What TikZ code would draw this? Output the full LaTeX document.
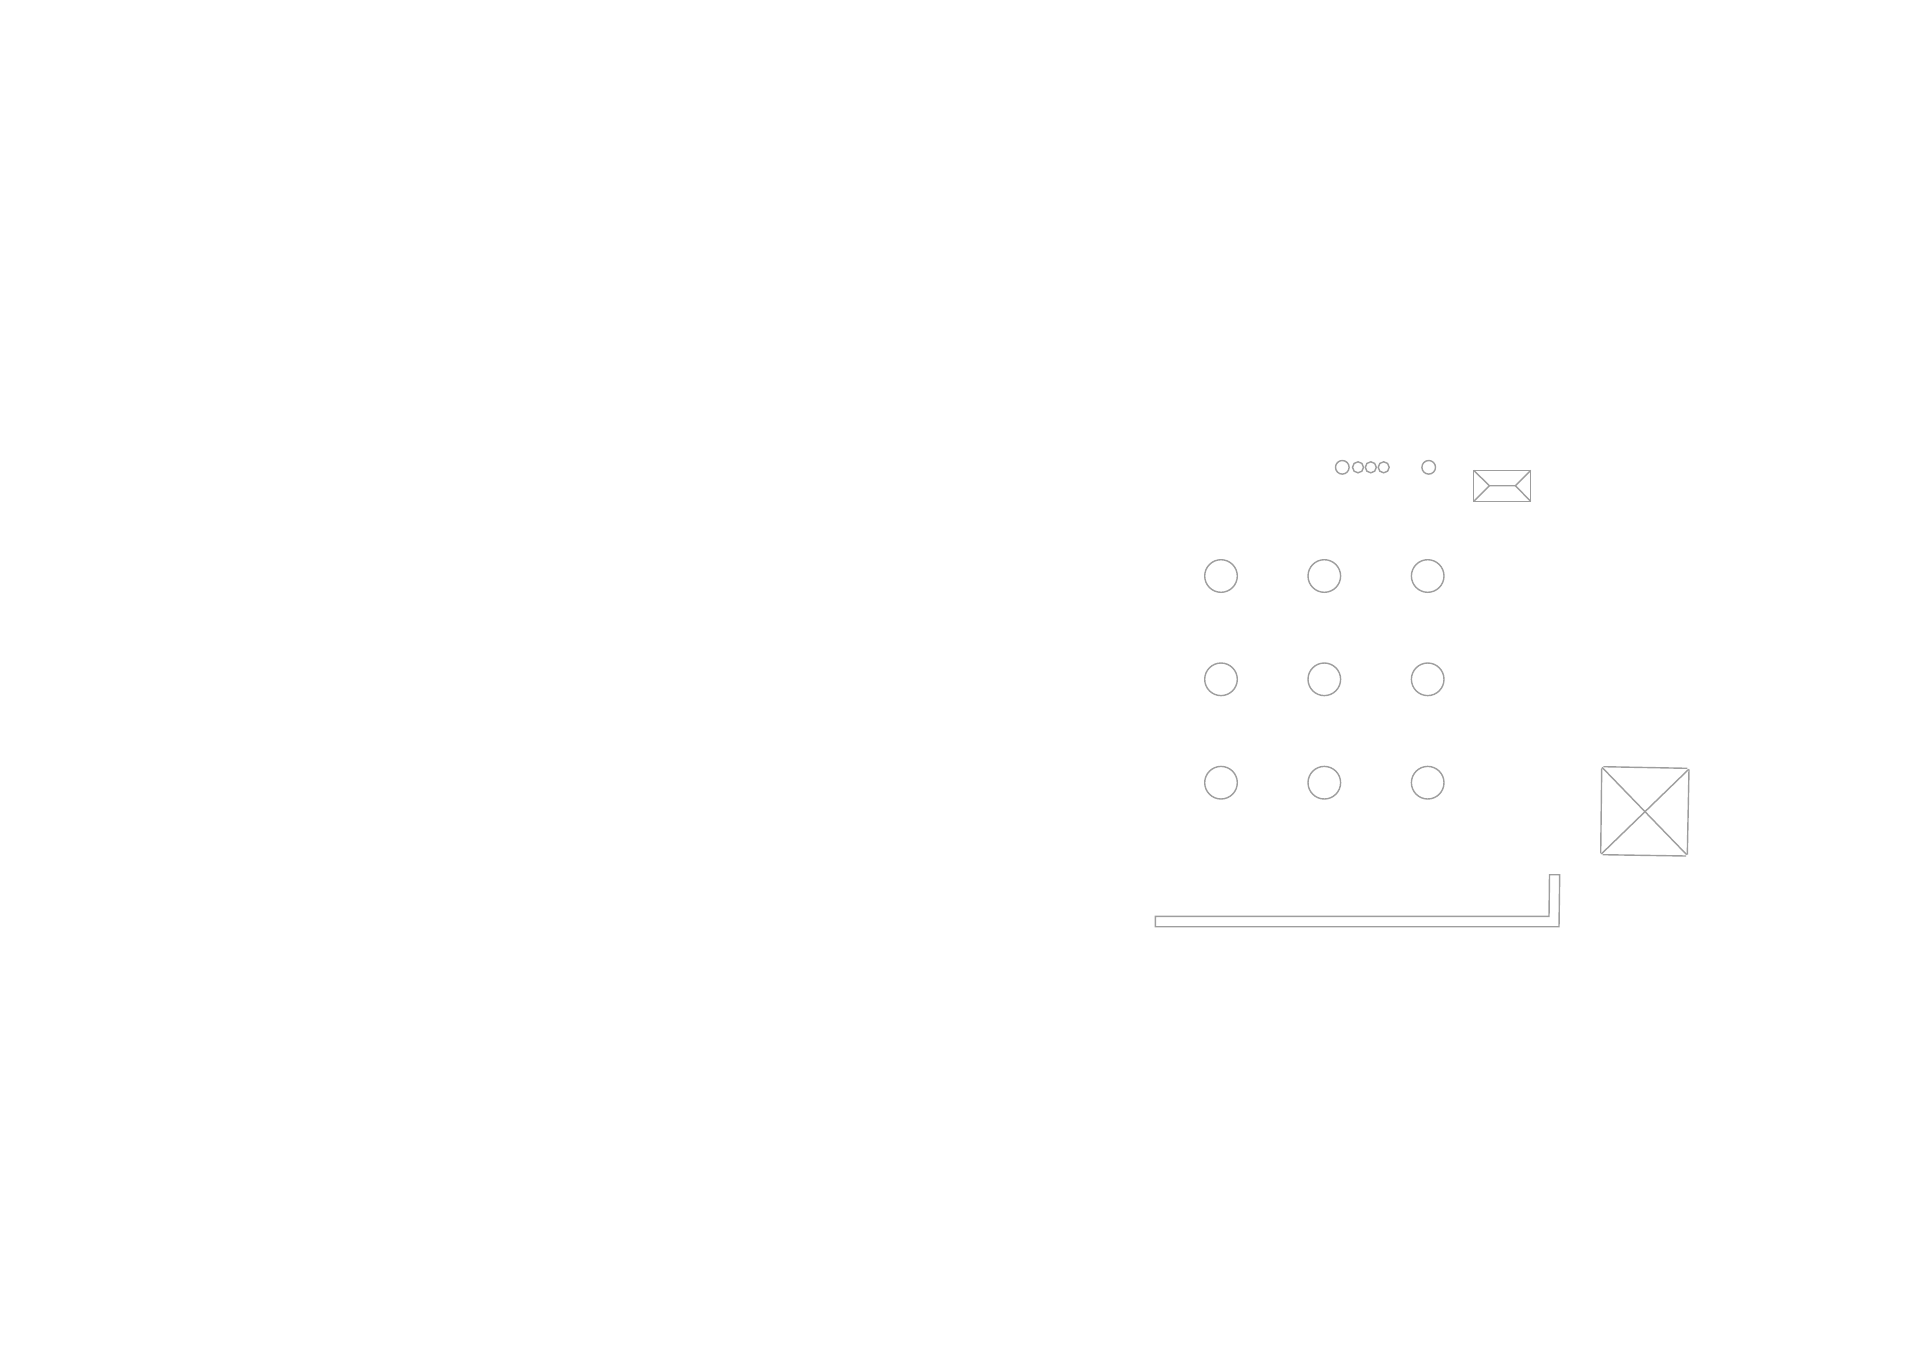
\documentclass[tikz,border=0pt]{standalone}
\usepackage{tikz}
\tikzset{plan/.style={draw=black!38,line width=0.4pt,line join=miter}}
\begin{document}
\begin{tikzpicture}[x=0.01cm,y=-0.01cm]
\useasboundingbox (0,0) rectangle (1920,1357);
% columns
\foreach \x in {1221,1324.3,1427.7}
  \foreach \y in {576,679.3,782.7}
    \draw [plan] (\x,\y) circle (16.3);
% small lights
\draw [plan] (1342.3,467.3) circle (6.8);
\foreach \x in {1358,1370.8,1383.7}
  \draw [plan] (\x,467.3) circle (5.5);
\draw [plan] (1428.7,467.3) circle (6.8);
% small roof
\draw [plan] (1473.7,470.3) rectangle (1530.7,501.3);
\draw [plan] (1473.7,470.3) -- (1489.3,485.7) -- (1515.3,485.7) -- (1530.7,470.3);
\draw [plan] (1473.7,501.3) -- (1489.3,485.7);
\draw [plan] (1515.3,485.7) -- (1530.7,501.3);
% tower
\draw [plan] (1603.3,766.7) -- (1687.3,768.3);
\draw [plan] (1689,769.3) -- (1687.3,854.7);
\draw [plan] (1602.7,854.7) -- (1686,856);
\draw [plan] (1601.7,768.3) -- (1600.7,853.3);
\draw [plan] (1602,767.3) -- (1686.7,854.7);
\draw [plan] (1688.7,769.3) -- (1601.3,854);
% wall
\draw [plan] (1155.3,916.3) -- (1549,916.3) -- (1549.5,874.7) -- (1559.7,874.7) -- (1559,926.7) -- (1155.3,926.7) -- cycle;
\end{tikzpicture}
\end{document}
